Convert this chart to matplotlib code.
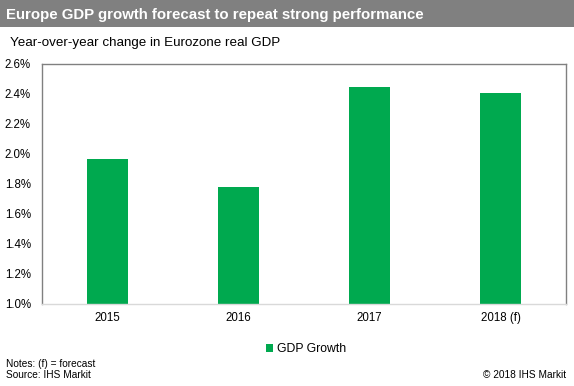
import matplotlib
matplotlib.use("Agg")
import matplotlib.pyplot as plt
from matplotlib.patches import Rectangle
from matplotlib.ticker import FuncFormatter, MultipleLocator

plt.rcParams['font.family'] = ['Liberation Sans', 'DejaVu Sans']

categories = ['2015', '2016', '2017', '2018 (f)']
gdp_growth = [1.97, 1.78, 2.45, 2.41]
series_name = 'GDP Growth'
title = 'Europe GDP growth forecast to repeat strong performance'
subtitle = 'Year-over-year change in Eurozone real GDP'
notes = 'Notes: (f) = forecast'
source = 'Source: IHS Markit'
copyright_text = '\u00a9 2018 IHS Markit'

W, H = 574, 386
fig = plt.figure(figsize=(W / 100, H / 100), dpi=100)

# title band
fig.patches.append(Rectangle((0, 1 - 27 / H), 1, 27 / H, transform=fig.transFigure,
                             facecolor='#808080', edgecolor='none', zorder=0))
fig.text(6 / W, 1 - 14.5 / H, title, color='white', fontsize=10.8, fontweight='bold',
         va='center', ha='left')
fig.text(10 / W, 1 - 43 / H, subtitle, color='black', fontsize=9.6, va='center', ha='left')

ax = fig.add_axes([42 / W, 1 - 304 / H, (566 - 42) / W, (304 - 64) / H])
x = range(len(categories))
ax.bar(x, gdp_growth, width=0.31, color='#00a94f', bottom=0, label=series_name, zorder=2)
ax.set_ylim(1.0, 2.6)
ax.set_xlim(-0.5, len(categories) - 0.5)
ax.yaxis.set_major_locator(MultipleLocator(0.2))
ax.yaxis.set_major_formatter(FuncFormatter(lambda v, p: f'{v:.1f}%'))
ax.set_xticks(list(x))
ax.set_xticklabels(categories)
ax.tick_params(axis='both', length=0, labelsize=8.3, colors='black')
ax.tick_params(axis='y', pad=8)
ax.tick_params(axis='x', pad=6)
for s in ['left', 'top', 'right']:
    ax.spines[s].set_color('#808080')
    ax.spines[s].set_linewidth(1.0)
ax.spines['bottom'].set_color('#d9d9d9')
ax.spines['bottom'].set_linewidth(1.0)

leg = fig.legend(loc='center', bbox_to_anchor=(306 / W, 1 - 349 / H), frameon=False,
                 fontsize=8.8, handlelength=0.6, handleheight=0.6, handletextpad=0.3)

fig.text(6 / W, 1 - 364 / H, notes, fontsize=7.3, va='center', ha='left')
fig.text(6 / W, 1 - 375 / H, source, fontsize=7.3, va='center', ha='left')
fig.text(566 / W, 1 - 375 / H, copyright_text, fontsize=7.3, va='center', ha='right')

fig.savefig('out.png', dpi=100)
